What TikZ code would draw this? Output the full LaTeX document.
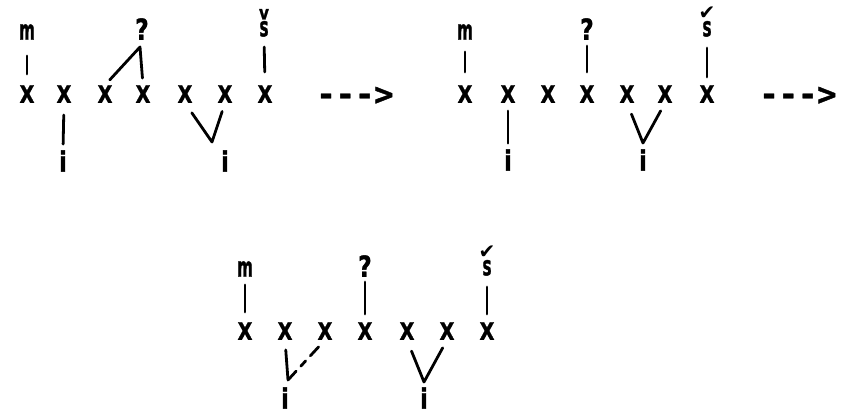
\documentclass[tikz,border=0pt]{standalone}
\usepackage{fontspec}
\newfontfamily\plot{DejaVu Sans}[FakeStretch=0.8, BoldFeatures={FakeBold=1.2}]
\newfontfamily\plotsym{DejaVu Sans}
\newfontfamily\plotmono{DejaVu Sans Mono}[BoldFeatures={FakeBold=1.2}]
\begin{document}
\begin{tikzpicture}[x=1pt,y=-1pt,
  xx/.style={font=\plot\bfseries\fontsize{24}{24}\selectfont, inner sep=0pt},
  lab/.style={font=\plot\bfseries\fontsize{19}{19}\selectfont, inner sep=0pt},
  qq/.style={font=\plot\bfseries\fontsize{29}{29}\selectfont, inner sep=0pt},
  ii/.style={font=\plot\bfseries\fontsize{28}{28}\selectfont, inner sep=0pt},
  ss/.style={font=\plot\bfseries\fontsize{19}{19}\selectfont, inner sep=0pt, anchor=south},
  arr/.style={font=\plotmono\bfseries\fontsize{32}{32}\selectfont, inner sep=0pt},
  ln/.style={line width=2.8pt, line cap=round, line join=round}]
\useasboundingbox (0,0) rectangle (844,413);
\newcommand{\tall}[1]{\scalebox{1}[1.45]{#1}}
\newcommand{\caronS}{\ooalign{\hidewidth\raisebox{17pt}{v}\hidewidth\cr \tall{s}\cr}}
\newcommand{\checkS}{\ooalign{\hidewidth\raisebox{17pt}{\plotsym\bfseries\fontsize{20}{20}\selectfont ✔}\hidewidth\cr \tall{s}\cr}}
% ---------------- panel 1
\foreach \n/\x in {1/27,2/64,3/105,4/143,5/185,6/225,7/265}
  \node[xx] (a\n) at (\x,94) {X};
\node[lab] (am) at (27,32) {\tall{m}};
\node[qq] (aq) at (142,29) {?};
\node[ss] (as) at (264,37) {\caronS};
\node[ii] (ai1) at (63,161) {i};
\node[ii] (ai2) at (225,161) {i};
\coordinate (aqt) at (140,47);
\coordinate (av) at (212,142);
\draw[ln, shorten <=16pt, shorten >=11pt] (am.south) -- (a1.north);
\draw[ln, shorten <=7pt, shorten >=7pt] (a3.north) -- (aqt) -- (a4.north);
\draw[ln, shorten <=12pt, shorten >=6pt] (a2.south) -- (ai1.north);
\draw[ln, shorten <=12pt, shorten >=9pt] (a5.south) -- (av) -- (a6.south);
\draw[ln, shorten <=10pt, shorten >=13pt] (as.south) -- (a7.north);
\node[arr] (arr1) at (355,96) {-{}-{}->};
% ---------------- panel 2
\foreach \n/\x in {1/465,2/508,3/548,4/587,5/627,6/665,7/707}
  \node[xx] (b\n) at (\x,94) {X};
\node[lab] (bm) at (465,32) {\tall{m}};
\node[qq] (bq) at (587,29) {?};
\node[ss] (bs) at (707,37) {\checkS};
\node[ii] (bi1) at (508,160) {i};
\node[ii] (bi2) at (643,160) {i};
\coordinate (bv) at (643,143);
\draw[ln, shorten <=12pt, shorten >=13pt] (bm.south) -- (b1.north);
\draw[ln, shorten <=6pt, shorten >=13pt] (bq.south) -- (b4.north);
\draw[ln, shorten <=8pt, shorten >=6pt] (b2.south) -- (bi1.north);
\draw[ln, shorten <=12pt, shorten >=9pt] (b5.south) -- (bv) -- (b6.south);
\draw[ln, shorten <=11pt, shorten >=8pt] (bs.south) -- (b7.north);
\node[arr] (arr2) at (798,96) {-{}-{}->};
% ---------------- panel 3
\foreach \n/\x in {1/245,2/285,3/325,4/365,5/407,6/447,7/487}
  \node[xx] (c\n) at (\x,331) {X};
\node[lab] (cm) at (245,269) {\tall{m}};
\node[qq] (cq) at (365,266) {?};
\node[ss] (cs) at (487,276) {\checkS};
\node[ii] (ci1) at (285,398) {i};
\node[ii] (ci2) at (424,398) {i};
\coordinate (cl) at (288,380);
\coordinate (cv) at (424,382);
\draw[ln, shorten <=8pt, shorten >=10pt] (cm.south) -- (c1.north);
\draw[ln, shorten <=5pt, shorten >=8pt] (cq.south) -- (c4.north);
\draw[ln, shorten <=11pt, shorten >=8pt] (cs.south) -- (c7.north);
\draw[ln, shorten <=10pt] (c2.south) -- (cl);
\draw[ln, dash pattern=on 12pt off 7pt on 7pt off 7pt, shorten >=9pt] (cl) -- (c3.south);
\draw[ln, shorten <=12pt, shorten >=9pt] (c5.south) -- (cv) -- (c6.south);
\end{tikzpicture}
\end{document}
